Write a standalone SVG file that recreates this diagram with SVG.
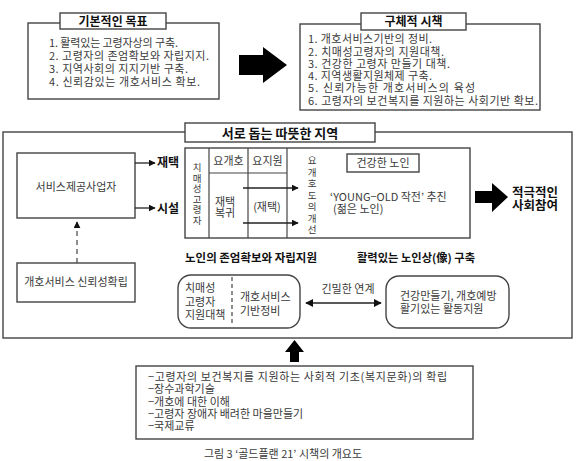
<svg xmlns="http://www.w3.org/2000/svg" width="584" height="461" viewBox="0 0 584 461">
<defs>
<style>
.t{font-family:"Noto Sans CJK KR","Noto Sans",sans-serif;font-size:11px;fill:#3a3a3a}
.b{font-family:"Noto Sans CJK KR","Noto Sans",sans-serif;font-weight:bold;fill:#111}
.v{font-size:9.5px}
.box{fill:#fff;stroke:#444;stroke-width:1.4}
.ln{stroke:#444;stroke-width:1.2;fill:none}
.ar{stroke:#222;stroke-width:1.3;fill:none;marker-end:url(#ah)}
.big{fill:#000}
</style>
<marker id="ah" viewBox="0 0 10 10" refX="9" refY="5" markerWidth="7" markerHeight="7" markerUnits="userSpaceOnUse" orient="auto"><path d="M0,0 L10,5 L0,10 z" fill="#111"/></marker>
<marker id="ah2" viewBox="0 0 10 10" refX="9" refY="5" markerWidth="8" markerHeight="8" markerUnits="userSpaceOnUse" orient="auto-start-reverse"><path d="M0,0 L10,5 L0,10 z" fill="#111"/></marker>
</defs>
<rect width="584" height="461" fill="#fff"/>

<g id="goals">
<rect class="box" x="28" y="23" width="191" height="76"/>
<rect class="box" x="60" y="13" width="106" height="16"/>
<text class="b" x="113" y="25.5" font-size="12" text-anchor="middle">기본적인 목표</text>
<text class="t" x="49" y="47" textLength="129" lengthAdjust="spacing">1. 활력있는 고령자상의 구축.</text>
<text class="t" x="49" y="60" textLength="160" lengthAdjust="spacing">2. 고령자의 존엄확보와 자립지지.</text>
<text class="t" x="49" y="73" textLength="139" lengthAdjust="spacing">3. 지역사회의 지지기반 구축.</text>
<text class="t" x="49" y="86" textLength="151" lengthAdjust="spacing">4. 신뢰감있는 개호서비스 확보.</text>
</g>

<g id="arrow-top">
<path class="big" d="M239,55 L263,55 L263,47 L287,65 L263,83 L263,75 L239,75 z"/>
</g>

<g id="measures">
<rect class="box" x="300" y="24" width="240" height="86"/>
<rect class="box" x="361" y="13" width="105" height="17"/>
<text class="b" x="413.5" y="26" font-size="12" text-anchor="middle">구체적 시책</text>
<text class="t" x="308" y="43" textLength="124" lengthAdjust="spacing">1. 개호서비스기반의 정비.</text>
<text class="t" x="308" y="55.5" textLength="136" lengthAdjust="spacing">2. 치매성고령자의 지원대책.</text>
<text class="t" x="308" y="67.5" textLength="142" lengthAdjust="spacing">3. 건강한 고령자 만들기 대책.</text>
<text class="t" x="308" y="80" textLength="124" lengthAdjust="spacing">4. 지역생활지원체제 구축.</text>
<text class="t" x="308" y="92" textLength="167" lengthAdjust="spacing">5. 신뢰가능한 개호서비스의 육성</text>
<text class="t" x="308" y="104.5" textLength="230" lengthAdjust="spacing">6. 고령자의 보건복지를 지원하는 사회기반 확보.</text>
</g>

<g id="region-frame">
<rect class="box" x="3" y="132" width="569" height="206"/>
<rect class="box" x="185" y="123" width="190" height="19"/>
<text class="b" x="280" y="137.5" font-size="13" text-anchor="middle">서로 돕는 따뜻한 지역</text>
</g>

<g id="provider">
<rect class="box" x="17" y="153" width="118" height="65"/>
<text class="t" x="76" y="191" font-size="10.5" text-anchor="middle">서비스제공사업자</text>
</g>

<g id="trust">
<rect class="box" x="17" y="263" width="118" height="39"/>
<text class="t" x="76" y="286" font-size="10.5" text-anchor="middle">개호서비스 신뢰성확립</text>
</g>

<g id="home-label"><text class="b" x="157" y="167" font-size="12">재택</text></g>
<g id="facility-label"><text class="b" x="157" y="213" font-size="12">시설</text></g>

<g id="care-table">
<rect class="box" x="185" y="148" width="285" height="90"/>
<line class="ln" x1="209" y1="148" x2="209" y2="238"/>
<line class="ln" x1="248" y1="148" x2="248" y2="238"/>
<line class="ln" x1="287" y1="148" x2="287" y2="238"/>
<line class="ln" x1="209" y1="173" x2="287" y2="173"/>
<g class="t" font-size="10.5" text-anchor="middle">
<text class="v" x="197" y="171">치</text><text class="v" x="197" y="181.6">매</text><text class="v" x="197" y="192.2">성</text><text class="v" x="197" y="202.8">고</text><text class="v" x="197" y="213.4">령</text><text class="v" x="197" y="224">자</text>
<text x="228.5" y="165">요개호</text>
<text x="267.5" y="165">요지원</text>
<text x="225" y="206">재택</text>
<text x="225" y="217">복귀</text>
<text x="267" y="211">(재택)</text>
<text class="v" x="312" y="164">요</text><text class="v" x="312" y="175.5">개</text><text class="v" x="312" y="187">호</text><text class="v" x="312" y="198.5">도</text><text class="v" x="312" y="210">의</text><text class="v" x="312" y="221.5">개</text><text class="v" x="312" y="233">선</text>
</g>
</g>

<g id="healthy-elderly">
<rect class="box" x="347" y="154" width="72" height="18"/>
<text class="t" x="383" y="167" font-size="10.5" text-anchor="middle">건강한 노인</text>
<text class="t" x="330" y="201" font-size="11">‘YOUNG−OLD 작전’ 추진</text>
<text class="t" x="333" y="213" font-size="11">(젊은 노인)</text>
</g>

<g id="arrow-right">
<path class="big" d="M475,191 L492,191 L492,183 L508,197 L492,212 L492,203 L475,203 z"/>
</g>

<g id="participation">
<text class="b" x="512" y="196.5" font-size="12.5">적극적인</text>
<text class="b" x="512" y="210" font-size="12.5">사회참여</text>
</g>

<g id="dignity-label"><text class="b" x="185" y="262" font-size="11" textLength="132" lengthAdjust="spacingAndGlyphs">노인의 존엄확보와 자립지원</text></g>
<g id="vital-label"><text class="b" x="357" y="262" font-size="11" textLength="118" lengthAdjust="spacingAndGlyphs">활력있는 노인상(像) 구축</text></g>

<g id="dementia-support">
<rect class="box" x="178" y="275" width="122" height="53" rx="13"/>
<line class="ln" x1="232" y1="277" x2="232" y2="326" stroke-dasharray="4,3"/>
<text class="t" x="185" y="292" font-size="10.5">치매성</text>
<text class="t" x="185" y="306" font-size="10.5">고령자</text>
<text class="t" x="185" y="319" font-size="10.5">지원대책</text>
<text class="t" x="240" y="301" font-size="10.5">개호서비스</text>
<text class="t" x="240" y="315" font-size="10.5">기반정비</text>
</g>

<g id="health-activity">
<rect class="box" x="386" y="276" width="123" height="52" rx="13"/>
<text class="t" x="400" y="300" font-size="10.5">건강만들기, 개호예방</text>
<text class="t" x="400" y="313" font-size="10.5">활기있는 활동지원</text>
</g>

<g id="foundation">
<rect class="box" x="136" y="366" width="337" height="73"/>
<text class="t" x="148" y="381" textLength="299" lengthAdjust="spacing">−고령자의 보건복지를 지원하는 사회적 기초(복지문화)의 확립</text>
<text class="t" x="148" y="393">−장수과학기술</text>
<text class="t" x="148" y="406">−개호에 대한 이해</text>
<text class="t" x="148" y="418">−고령자 장애자 배려한 마을만들기</text>
<text class="t" x="148" y="430">−국제교류</text>
</g>

<g id="arrow-up">
<path class="big" d="M290,362 L299,362 L299,352 L304,352 L294.5,340 L285,352 L290,352 z"/>
</g>

<g id="connectors">
<line class="ar" x1="135" y1="163" x2="155" y2="163"/>
<line class="ar" x1="135" y1="208" x2="155" y2="208"/>
<line class="ar" x1="243" y1="188" x2="298" y2="188"/>
<line class="ar" x1="243" y1="223" x2="298" y2="223"/>
<line x1="77" y1="263" x2="77" y2="222" stroke="#444" stroke-width="1.2" stroke-dasharray="5,4" marker-end="url(#ah)"/>
<line x1="306" y1="303" x2="381" y2="303" stroke="#222" stroke-width="1.3" marker-start="url(#ah2)" marker-end="url(#ah2)"/>
<text class="t" x="348" y="293" font-size="10.5" text-anchor="middle">긴밀한 연계</text>
</g>

<text class="t" x="283" y="457.5" font-size="11.5" text-anchor="middle" fill="#555">그림 3 ‘골드플랜 21’ 시책의 개요도</text>
</svg>
